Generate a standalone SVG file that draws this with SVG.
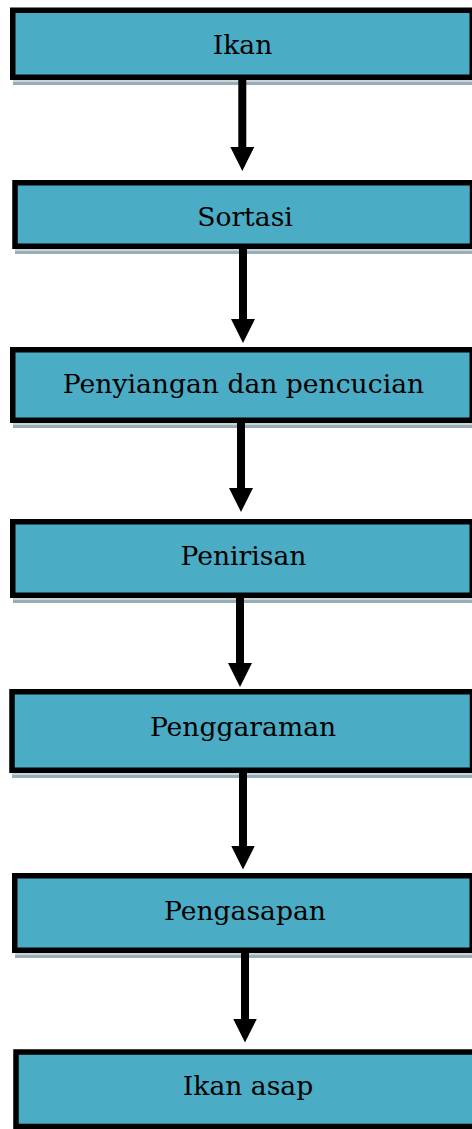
<svg xmlns="http://www.w3.org/2000/svg" width="472" height="1129" viewBox="0 0 472 1129">
  <style>
    .box { fill: #4BACC6; stroke: #000; stroke-width: 5.5; }
    .shadow { fill: #97adb8; }
    .shadow2 { fill: #c9d3d8; }
    .lbl { font-family: "DejaVu Serif", "Liberation Serif", serif; font-size: 26.6px; fill: #000; text-anchor: middle; }
    .conn { stroke: #000; stroke-width: 8; fill: none; marker-end: url(#head); }
  </style>
  <defs>
    <marker id="head" markerUnits="userSpaceOnUse" markerWidth="24" markerHeight="24" viewBox="0 0 24 24" refX="0.5" refY="12" orient="auto">
      <path d="M0,0 L24,12 L0,24 Z" fill="#000"/>
    </marker>
  </defs>
  <rect width="472" height="1129" fill="#fff"/>

  <g id="node-ikan">
    <rect class="shadow2" x="13" y="80" width="470" height="2"/>
    <rect class="shadow" x="13" y="82" width="470" height="3"/>
    <rect class="box" x="12.75" y="10.25" width="459.5" height="67"/>
    <text class="lbl" x="242.5" y="54">Ikan</text>
  </g>
  <g id="node-sortasi">
    <rect class="shadow2" x="15" y="249" width="470" height="2"/>
    <rect class="shadow" x="15" y="251" width="470" height="3"/>
    <rect class="box" x="15" y="182.75" width="457.5" height="63.5"/>
    <text class="lbl" x="245" y="226">Sortasi</text>
  </g>
  <g id="node-penyiangan">
    <rect class="shadow2" x="13" y="423" width="470" height="2"/>
    <rect class="shadow" x="13" y="425" width="470" height="3"/>
    <rect class="box" x="12.75" y="349.75" width="459.5" height="70.5"/>
    <text class="lbl" x="243.5" y="393">Penyiangan dan pencucian</text>
  </g>
  <g id="node-penirisan">
    <rect class="shadow2" x="13" y="598" width="470" height="2"/>
    <rect class="shadow" x="13" y="600" width="470" height="3"/>
    <rect class="box" x="12.75" y="521.75" width="459.5" height="73.5"/>
    <text class="lbl" x="243.5" y="565">Penirisan</text>
  </g>
  <g id="node-penggaraman">
    <rect class="shadow2" x="12" y="773" width="470" height="2"/>
    <rect class="shadow" x="12" y="775" width="470" height="3"/>
    <rect class="box" x="12" y="691.75" width="460.5" height="78.5"/>
    <text class="lbl" x="243" y="735.5">Penggaraman</text>
  </g>
  <g id="node-pengasapan">
    <rect class="shadow2" x="15" y="953" width="470" height="2"/>
    <rect class="shadow" x="15" y="955" width="470" height="3"/>
    <rect class="box" x="14.75" y="875.75" width="457.5" height="74.5"/>
    <text class="lbl" x="245" y="920">Pengasapan</text>
  </g>
  <g id="node-ikan-asap">
    <rect class="box" x="16" y="1052" width="462" height="74.5"/>
    <text class="lbl" x="248" y="1095">Ikan asap</text>
  </g>

  <g id="connectors">
    <line class="conn" x1="242.3" y1="79" x2="242.3" y2="147.5"/>
    <line class="conn" x1="243" y1="248" x2="243" y2="319.5"/>
    <line class="conn" x1="241" y1="422" x2="241" y2="488.5"/>
    <line class="conn" x1="240" y1="597" x2="240" y2="663.5"/>
    <line class="conn" x1="243" y1="772" x2="243" y2="846"/>
    <line class="conn" x1="245" y1="952" x2="245" y2="1019"/>
  </g>
</svg>
